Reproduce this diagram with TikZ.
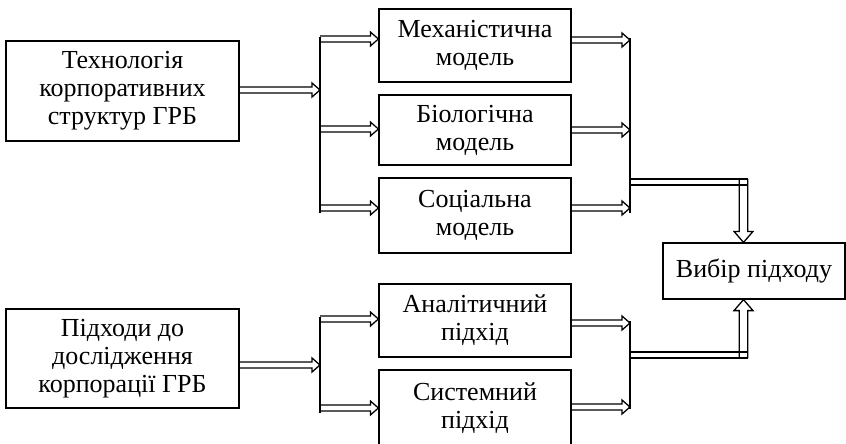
\documentclass[tikz,border=0pt]{standalone}
\usepackage{fontspec}
\setmainfont{Liberation Serif}
\usetikzlibrary{calc}
\begin{document}
\begin{tikzpicture}[x=1pt,y=-1pt,
  shaftw/.store in=\ah, headl/.store in=\aL, headw/.store in=\aH,
  back/.store in=\aB, ext/.store in=\aE,
  shaftw=3pt, headl=8pt, headw=7pt, back=0pt, ext=0pt,
  box/.style={draw, line width=1.2pt, align=center, inner sep=0pt,
    font=\fontsize{26}{28}\selectfont},
  hollow/.style={line width=1.3pt, to path={
    let \p1=(\tikztostart), \p2=(\tikztotarget),
        \n1={atan2(\y2-\y1,\x2-\x1)}, \n2={veclen(\x2-\x1,\y2-\y1)} in
    ([shift={(\p1)},rotate=\n1]-\aB,\ah)
    -- ([shift={(\p1)},rotate=\n1]\n2-\aL,\ah)
    -- ([shift={(\p1)},rotate=\n1]\n2-\aL,\aH)
    -- (\p2)
    -- ([shift={(\p1)},rotate=\n1]\n2-\aL,-\aH)
    -- ([shift={(\p1)},rotate=\n1]\n2-\aL,-\ah)
    -- ([shift={(\p1)},rotate=\n1]-\aB,-\ah) \tikztonodes}},
  bigtip/.style={hollow, shaftw=4.3pt, headl=11pt, headw=9.5pt, back=3pt},
  band/.style={line width=1.3pt, to path={
    let \p1=(\tikztostart), \p2=(\tikztotarget),
        \n1={atan2(\y2-\y1,\x2-\x1)}, \n2={veclen(\x2-\x1,\y2-\y1)} in
    ([shift={(\p1)},rotate=\n1]0pt,\ah)
    -- ([shift={(\p1)},rotate=\n1]\n2+\aE,\ah)
    -- ([shift={(\p1)},rotate=\n1]\n2+\aE,-\ah)
    -- ([shift={(\p1)},rotate=\n1]0pt,-\ah) \tikztonodes}},
  bus/.style={line width=1.4pt}]
\useasboundingbox (0,0) rectangle (846,444);
% boxes
\node[box, minimum width=233pt, minimum height=100pt] (tech) at (122.5,91) {Технологія\\корпоративних\\структур ГРБ};
\node[box, minimum width=233pt, minimum height=99pt] (pidh) at (122.5,358.5) {Підходи до\\дослідження\\корпорації ГРБ};
\node[box, minimum width=192pt, minimum height=73pt] (mech) at (475,45.5) {Механістична\\модель};
\node[box, minimum width=192pt, minimum height=70pt] (bio) at (475,130) {Біологічна\\модель};
\node[box, minimum width=192pt, minimum height=75pt] (soc) at (475,215.5) {Соціальна\\модель};
\node[box, minimum width=192pt, minimum height=73pt] (anal) at (475,320.5) {Аналітичний\\підхід};
\node[box, minimum width=192pt, minimum height=77pt] (sys) at (475,408.5) {Системний\\підхід};
\node[box, minimum width=182pt, minimum height=56pt] (vib) at (754,271) {Вибір підходу};
% bus coordinates
\coordinate (b1top) at (320,37);
\coordinate (b1bot) at (320,213);
\coordinate (b1m) at (320,39);
\coordinate (b1b) at (320,129);
\coordinate (b1s) at (320,208);
\coordinate (b1in) at (320,90);
\coordinate (r1top) at (630,38);
\coordinate (r1bot) at (630,213);
\coordinate (r1m) at (630,40);
\coordinate (r1b) at (630,130);
\coordinate (r1s) at (630,208);
\coordinate (j1) at (630,182);
\coordinate (b2top) at (320,317);
\coordinate (b2bot) at (320,413);
\coordinate (b2a) at (320,319);
\coordinate (b2s) at (320,408);
\coordinate (b2in) at (320,365);
\coordinate (r2top) at (630,321);
\coordinate (r2bot) at (630,409);
\coordinate (r2a) at (630,323);
\coordinate (r2s) at (630,407);
\coordinate (j2) at (630,355);
\coordinate (ax) at (743.5,0);
\coordinate (cn1) at (ax |- j1);
\coordinate (cn2) at (ax |- j2);
% top group
\draw[bus] (b1top) -- (b1bot);
\draw[bus] (r1top) -- (r1bot);
\draw[hollow] (tech.east |- b1in) to (b1in);
\draw[hollow] (b1m) to (b1m -| mech.west);
\draw[hollow] (b1b) to (b1b -| bio.west);
\draw[hollow] (b1s) to (b1s -| soc.west);
\draw[hollow] (r1m -| mech.east) to (r1m);
\draw[hollow] (r1b -| bio.east) to (r1b);
\draw[hollow] (r1s -| soc.east) to (r1s);
\draw[band, ext=4.3pt] (j1) to (cn1);
\draw[bigtip] (cn1) to (ax |- vib.north);
% bottom group
\draw[bus] (b2top) -- (b2bot);
\draw[bus] (r2top) -- (r2bot);
\draw[hollow] (pidh.east |- b2in) to (b2in);
\draw[hollow] (b2a) to (b2a -| anal.west);
\draw[hollow] (b2s) to (b2s -| sys.west);
\draw[hollow] (r2a -| anal.east) to (r2a);
\draw[hollow] (r2s -| sys.east) to (r2s);
\draw[band, ext=4.3pt] (j2) to (cn2);
\draw[bigtip] (cn2) to (ax |- vib.south);
\end{tikzpicture}
\end{document}
